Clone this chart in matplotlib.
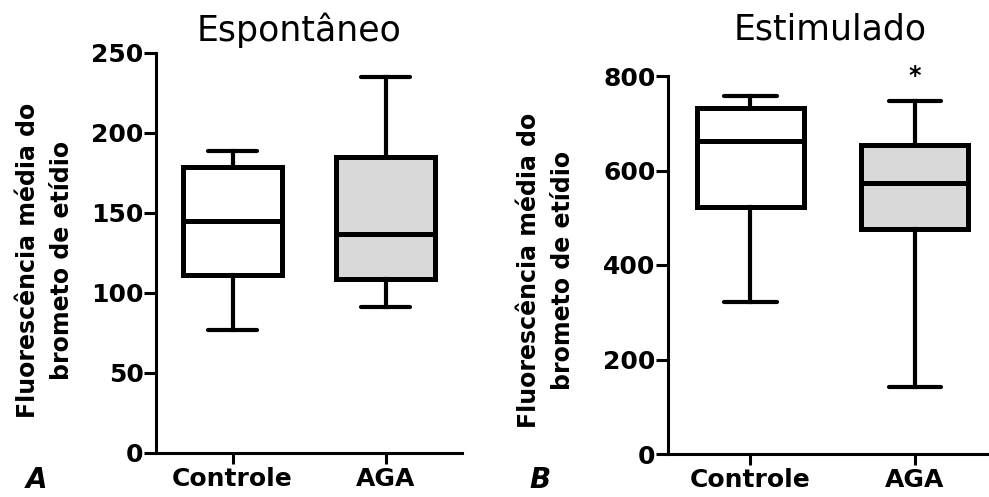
"""
Box plots: ethidium bromide fluorescence, spontaneous vs stimulated
"""
import matplotlib
matplotlib.use('Agg')
import matplotlib.pyplot as plt

###############################################################################
# Summary statistics (whisker low, Q1, median, Q3, whisker high)

groups = ['Controle', 'AGA']

esp_low = [77, 91]
esp_q1 = [111, 109]
esp_med = [145, 137]
esp_q3 = [179, 185]
esp_high = [189, 235]

est_low = [322, 142]
est_q1 = [523, 476]
est_med = [663, 574]
est_q3 = [732, 654]
est_high = [758, 748]

esp_ticks = [0, 50, 100, 150, 200, 250]
est_ticks = [0, 200, 400, 600, 800]

box_colors = ['white', '#d9d9d9']
ylabel = 'Fluorescência média do\nbrometo de etídio'

plt.rcParams['font.family'] = ['DejaVu Sans']


def make_stats(low, q1, med, q3, high):
    return [dict(whislo=lo, q1=a, med=m, q3=b, whishi=hi, fliers=[], label=g)
            for g, lo, a, m, b, hi in zip(groups, low, q1, med, q3, high)]


def draw(ax, stats, ticks, xright):
    bp = ax.bxp(stats, positions=[0, 1], widths=0.65, patch_artist=True,
                showfliers=False, capwidths=0.32,
                boxprops=dict(linewidth=3.6, edgecolor='black'),
                medianprops=dict(linewidth=3.6, color='black'),
                whiskerprops=dict(linewidth=3.0, color='black'),
                capprops=dict(linewidth=3.0, color='black',
                              solid_capstyle='round'))
    for patch, c in zip(bp['boxes'], box_colors):
        patch.set_facecolor(c)
    ax.set_xlim(-0.5, xright)
    ax.set_ylim(0, ticks[-1])
    ax.set_yticks(ticks)
    ax.set_xticks([0, 1])
    ax.set_xticklabels(groups)
    for s in ['top', 'right']:
        ax.spines[s].set_visible(False)
    for s in ['left', 'bottom']:
        ax.spines[s].set_linewidth(2.2)
    ax.tick_params(axis='y', length=9, width=2.2, pad=0, labelsize=18)
    ax.tick_params(axis='x', length=8, width=2.2, pad=2, labelsize=18)
    for lab in ax.get_xticklabels() + ax.get_yticklabels():
        lab.set_fontweight('bold')


fig = plt.figure(figsize=(9.89, 4.97), dpi=100)

axA = fig.add_axes([156 / 989, 44 / 497, 306 / 989, 400 / 497])
draw(axA, make_stats(esp_low, esp_q1, esp_med, esp_q3, esp_high),
     esp_ticks, 1.5)

axB = fig.add_axes([668 / 989, 43 / 497, 321 / 989, 378 / 497])
draw(axB, make_stats(est_low, est_q1, est_med, est_q3, est_high),
     est_ticks, 1.45)
axB.text(1, 800, '*', ha='center', va='center', fontsize=17,
         fontweight='bold', clip_on=False)

# titles, axis labels and panel letters
fig.text(299 / 989, 1 - 30 / 497, 'Espontâneo', ha='center', va='center',
         fontsize=25)
fig.text(830 / 989, 1 - 30 / 497, 'Estimulado', ha='center', va='center',
         fontsize=25)
fig.text(45 / 989, 1 - 260 / 497, ylabel, rotation=90, ha='center',
         va='center', multialignment='center', fontsize=17,
         fontweight='bold', linespacing=1.55)
fig.text(546 / 989, 1 - 270 / 497, ylabel, rotation=90, ha='center',
         va='center', multialignment='center', fontsize=17,
         fontweight='bold', linespacing=1.55)
fig.text(37 / 989, 1 - 480 / 497, 'A', ha='center', va='center',
         fontsize=20, fontweight='bold', style='italic')
fig.text(540 / 989, 1 - 480 / 497, 'B', ha='center', va='center',
         fontsize=20, fontweight='bold', style='italic')

fig.savefig('out.png', dpi=100)
